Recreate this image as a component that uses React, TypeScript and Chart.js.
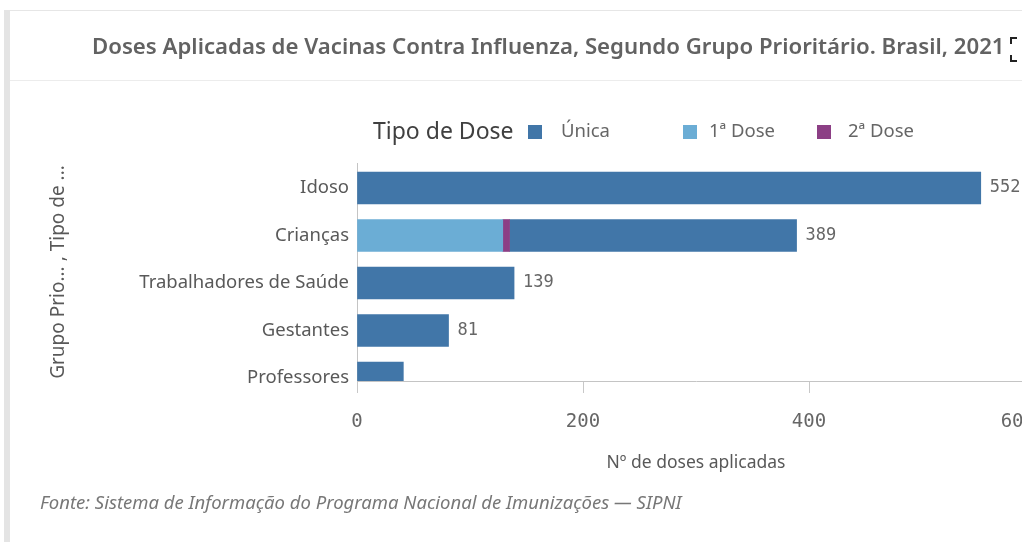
import { useEffect, useRef } from 'react';
import { Chart, registerables } from 'chart.js';

Chart.register(...registerables);

// ---- data ----
const categories = ['Idoso', 'Crianças', 'Trabalhadores de Saúde', 'Gestantes', 'Professores'];
const legendOrder = ['Única', '1ª Dose', '2ª Dose'];
const unicaValues = [552, 254, 139, 81, 41];
const primeiraDoseValues: (number | null)[] = [null, 129, null, null, null];
const segundaDoseValues: (number | null)[] = [null, 6, null, null, null];
const xTickValues = [0, 200, 400, 600];

const titleText = 'Doses Aplicadas de Vacinas Contra Influenza, Segundo Grupo Prioritário. Brasil, 2021';
const legendTitle = 'Tipo de Dose';
const xAxisTitle = 'Nº de doses aplicadas';
const yAxisTitle = 'Grupo Prio... , Tipo de ...';
const sourceText = 'Fonte: Sistema de Informação do Programa Nacional de Imunizações — SIPNI';

const colorUnica = '#4176a8';
const colorPrimeira = '#6badd5';
const colorSegunda = '#8c3f85';

const FONT = '"Noto Sans", "Open Sans", sans-serif';
const MONO = '"DejaVu Sans Mono", monospace';

const toPoints = (arr: (number | null)[]) => arr.map((v, i) => ({ x: v, y: i }));

const totals = categories.map(
  (_, i) => (unicaValues[i] || 0) + (primeiraDoseValues[i] || 0) + (segundaDoseValues[i] || 0)
);

// layout constants
const CANVAS_W = 1120;
const PLOT_RIGHT = 1035;
const legendBoxX = [528, 683, 817];
const legendTextX = [561, 709, 848];

const decorPlugin = {
  id: 'decor',
  beforeDraw(chart: any) {
    const ctx = chart.ctx as CanvasRenderingContext2D;
    ctx.save();
    ctx.fillStyle = '#ffffff';
    ctx.fillRect(0, 0, chart.width, chart.height);
    ctx.fillStyle = '#e4e4e4';
    ctx.fillRect(4, 10, 6, chart.height - 10);
    ctx.fillStyle = '#e6e6e6';
    ctx.fillRect(10, 10, chart.width, 1);
    ctx.fillStyle = '#ececec';
    ctx.fillRect(10, 80, chart.width, 1);

    ctx.font = `600 22.2px ${FONT}`;
    ctx.fillStyle = '#626262';
    ctx.textBaseline = 'middle';
    ctx.textAlign = 'left';
    ctx.fillText(titleText, 92, 48);

    // expand icon corners
    ctx.strokeStyle = '#222';
    ctx.lineWidth = 2;
    ctx.beginPath();
    ctx.moveTo(1011, 44);
    ctx.lineTo(1011, 38);
    ctx.lineTo(1017, 38);
    ctx.moveTo(1011, 55);
    ctx.lineTo(1011, 61);
    ctx.lineTo(1017, 61);
    ctx.stroke();

    ctx.font = `italic 18.5px ${FONT}`;
    ctx.fillStyle = '#777777';
    ctx.fillText(sourceText, 40, 504);
    ctx.restore();
  },
};

const legendPlugin = {
  id: 'customLegend',
  afterDraw(chart: any) {
    const ctx = chart.ctx as CanvasRenderingContext2D;
    ctx.save();
    ctx.textBaseline = 'middle';
    ctx.textAlign = 'left';
    ctx.font = `23px ${FONT}`;
    ctx.fillStyle = '#404040';
    ctx.fillText(legendTitle, 373, 132);
    ctx.font = `18.5px ${FONT}`;
    legendOrder.forEach((label, k) => {
      const ds = chart.data.datasets.find((d: any) => d.label === label);
      ctx.fillStyle = ds.backgroundColor;
      ctx.fillRect(legendBoxX[k], 125, 14, 14);
      ctx.fillStyle = '#666666';
      ctx.fillText(label, legendTextX[k], 132);
    });
    ctx.restore();
  },
};

const valueLabelPlugin = {
  id: 'valueLabels',
  afterDatasetsDraw(chart: any) {
    const ctx = chart.ctx as CanvasRenderingContext2D;
    const xs = chart.scales.x;
    const ys = chart.scales.y;
    const area = chart.chartArea;
    ctx.save();
    ctx.font = `17px ${MONO}`;
    ctx.fillStyle = '#666666';
    ctx.textBaseline = 'middle';
    ctx.textAlign = 'left';
    totals.forEach((t, i) => {
      const y = ys.getPixelForValue(i);
      if (y + 16 > area.bottom) return;
      const x = xs.getPixelForValue(t) + 9;
      ctx.fillText(String(t), x, y);
    });
    ctx.restore();
  },
};

export default function App() {
  const ref = useRef<HTMLCanvasElement>(null);

  useEffect(() => {
    document.body.style.margin = '0';
    document.body.style.overflow = 'hidden';
    const chart = new Chart(ref.current as HTMLCanvasElement, {
      type: 'bar',
      data: {
        datasets: [
          { label: '1ª Dose', data: toPoints(primeiraDoseValues), backgroundColor: colorPrimeira },
          { label: '2ª Dose', data: toPoints(segundaDoseValues), backgroundColor: colorSegunda },
          { label: 'Única', data: toPoints(unicaValues), backgroundColor: colorUnica },
        ] as any,
      },
      options: {
        indexAxis: 'y',
        responsive: false,
        animation: false,
        devicePixelRatio: 1,
        events: [],
        layout: { padding: { left: 0, right: CANVAS_W - PLOT_RIGHT, top: 163, bottom: 0 } },
        datasets: { bar: { barThickness: 32, borderWidth: 0, clip: 0 } as any },
        plugins: {
          legend: { display: false },
          tooltip: { enabled: false },
          title: { display: false },
        },
        scales: {
          x: {
            type: 'linear',
            min: 0,
            max: 600,
            stacked: true,
            bounds: 'data',
            afterBuildTicks: (s: any) => {
              s.ticks = xTickValues.map((v) => ({ value: v }));
            },
            afterFit: (s: any) => {
              s.height = 161;
            },
            ticks: {
              font: { family: MONO, size: 19 },
              color: '#666666',
              padding: 18,
              callback: (v: any, i: number, ticks: any[]) =>
                i === ticks.length - 1 ? String(v) + '   ' : String(v),
            },
            grid: { drawOnChartArea: false, drawTicks: true, tickLength: 12, color: '#c8c8c8' },
            border: { display: true, color: '#c4c4c4', width: 1 },
            title: {
              display: true,
              text: xAxisTitle,
              font: { family: FONT, size: 17.5 },
              color: '#595959',
              padding: { top: 4, bottom: 68 },
            },
          },
          y: {
            type: 'linear',
            reverse: true,
            offset: false,
            min: -0.526,
            max: 4.063,
            stacked: true,
            bounds: 'data',
            afterBuildTicks: (s: any) => {
              s.ticks = categories.map((_, i) => ({ value: i }));
            },
            afterFit: (s: any) => {
              s.width = 357;
            },
            ticks: {
              font: { family: FONT, size: 18.5 },
              color: '#595959',
              padding: 8,
              autoSkip: false,
              callback: (v: any) => categories[v] ?? '',
            },
            grid: { display: true, offset: false, drawOnChartArea: false, drawTicks: false, color: '#c8c8c8' },
            border: { display: true, color: '#c4c4c4', width: 1 },
            title: {
              display: true,
              text: yAxisTitle,
              font: { family: FONT, size: 19 },
              color: '#595959',
              padding: { top: 47, bottom: 0 },
            },
          },
        },
      },
      plugins: [decorPlugin, legendPlugin, valueLabelPlugin],
    } as any);
    return () => chart.destroy();
  }, []);

  return (
    <div style={{ width: 1022, height: 542, overflow: 'hidden', position: 'relative', background: '#fff' }}>
      <canvas ref={ref} width={CANVAS_W} height={542} style={{ display: 'block', width: CANVAS_W, height: 542 }} />
    </div>
  );
}
